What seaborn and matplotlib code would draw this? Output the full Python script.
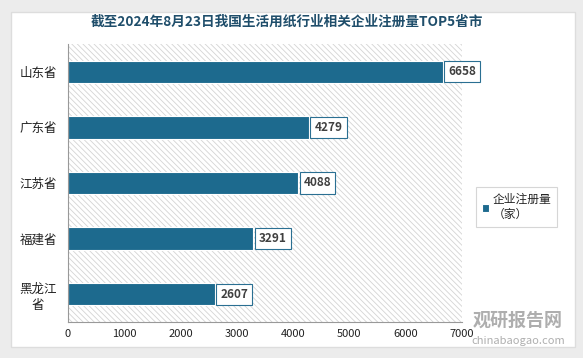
import numpy as np
import pandas as pd
import matplotlib
matplotlib.use("Agg")
import matplotlib.pyplot as plt
import seaborn as sns
from matplotlib.patches import Rectangle

provinces = ["山东省", "广东省", "江苏省", "福建省", "黑龙江\n省"]
counts = [6658, 4279, 4088, 3291, 2607]
x_ticks = [0, 1000, 2000, 3000, 4000, 5000, 6000, 7000]
title = "截至2024年8月23日我国生活用纸行业相关企业注册量TOP5省市"
legend_label = "企业注册量\n（家）"

bar_color = "#1d6a8e"

sns.set_style("white")
plt.rcParams["font.family"] = ["Noto Sans CJK SC", "DejaVu Sans"]
plt.rcParams["hatch.color"] = "#d4d4d4"
plt.rcParams["hatch.linewidth"] = 0.6

df = pd.DataFrame({"省份": provinces, "数量": counts})

fig = plt.figure(figsize=(5.83, 3.58), dpi=100)
fig.patch.set_facecolor("#ececec")
# white panel with soft border
fig.add_artist(Rectangle((11 / 583, 1 - 347 / 358), 564 / 583, 335 / 358,
                         transform=fig.transFigure, facecolor="white",
                         edgecolor="#dddddd", lw=1, zorder=0))

ax = fig.add_axes([68 / 583, 1 - 322 / 358, 394 / 583, 278 / 358])
ax.patch.set_facecolor("white")
ax.patch.set_hatch("\\\\\\\\\\\\")
ax.patch.set_edgecolor("#d4d4d4")
ax.patch.set_linewidth(0)

sns.barplot(data=df, x="数量", y="省份", orient="h", color=bar_color,
            width=0.4, ax=ax, saturation=1, label=legend_label,
            edgecolor="white", linewidth=0.8)

for i, v in enumerate(counts):
    ax.text(v + 100, i, str(v), va="center", ha="left", fontsize=8.5,
            fontweight="bold", color="#404040",
            bbox=dict(boxstyle="square,pad=0.35", facecolor="white",
                      edgecolor="#2a6f92", lw=0.8))

ax.set_xlim(0, 7000)
ax.set_ylim(4.5, -0.5)
ax.set_xticks(x_ticks)
ax.set_xticklabels([str(t) for t in x_ticks], fontsize=8, color="#222222")
ax.set_yticks(range(len(provinces)))
ax.set_yticklabels(provinces, fontsize=9, color="#222222", linespacing=1.3,
                   multialignment="center")
ax.set_yticks(np.arange(-0.5, 5, 1), minor=True)
ax.tick_params(axis="y", which="major", length=0, pad=8)
ax.tick_params(axis="y", which="minor", length=4, color="#999999", direction="out")
ax.tick_params(axis="x", length=4, color="#999999", direction="out", pad=1)
ax.set_xlabel("")
ax.set_ylabel("")
for s in ["top", "right"]:
    ax.spines[s].set_visible(False)
for s in ["left", "bottom"]:
    ax.spines[s].set_color("#999999")
    ax.spines[s].set_linewidth(0.8)

leg = ax.legend(loc="center left", bbox_to_anchor=(470 / 583, 1 - 207 / 358),
                bbox_transform=fig.transFigure, frameon=True, fancybox=False,
                fontsize=8.5, handlelength=0.6, handleheight=0.6,
                handletextpad=0.3, borderpad=0.5)
leg.get_frame().set_edgecolor("#cccccc")
leg.get_frame().set_linewidth(0.8)

fig.text(287 / 583, 1 - 22 / 358, title, ha="center", va="center",
         fontsize=9.8, fontweight="bold", color="#1f4e6b")

# watermark
fig.text(518 / 583, 1 - 320 / 358, "观研报告网", ha="center", va="center",
         fontsize=13, fontweight="bold", color="#9a9a9a", alpha=0.8)
fig.text(518 / 583, 1 - 341 / 358, "chinabaogao.com", ha="center", va="center",
         fontsize=8, color="#9a9a9a", alpha=0.8)

fig.savefig("out.png", dpi=100, facecolor=fig.get_facecolor())
